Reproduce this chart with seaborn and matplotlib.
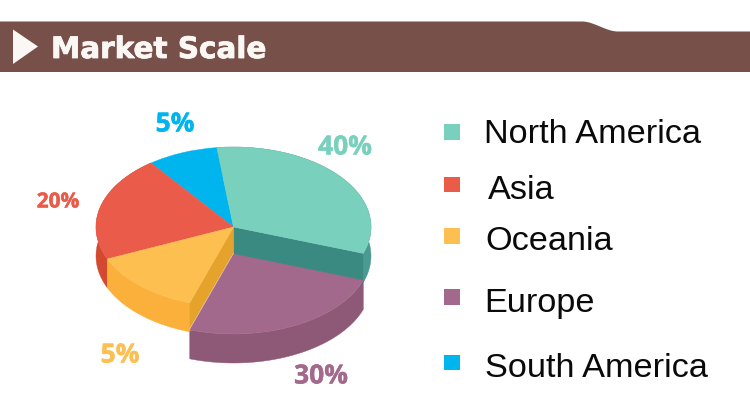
import numpy as np
import pandas as pd
import matplotlib
matplotlib.use("Agg")
import matplotlib.pyplot as plt
import matplotlib.patheffects as pe
from matplotlib.patches import Polygon
import seaborn as sns

# slices as drawn, starting at the top and going counter-clockwise
regions = ["South America", "Asia", "Oceania", "Europe", "North America"]
labels = ["5%", "20%", "5%", "30%", "40%"]
drawn_share = [8.3, 21.3, 13.3, 24.8, 32.3]
colors = ["#00B4EE", "#EA5B4A", "#FDBF50", "#A3698C", "#78D0BD"]
wall_colors = ["#0090C0", "#D2492F", "#FBB03B", "#8E5877", "#4A9A92"]
legend_order = ["North America", "Asia", "Oceania", "Europe", "South America"]

W, H = 750, 414
cx, cy = 233.5, 228.0
rx, ry = 137.5, 80.0
start = 97
wall = 29 / ry
drop = 27 / ry
brown = "#77504A"

sns.set_theme(style="white")
plt.rcParams["font.family"] = ["Liberation Sans", "DejaVu Sans"]

fig = plt.figure(figsize=(W / 100, H / 100), dpi=100)
fig.patch.set_facecolor("white")

# pie axes: one data unit is the ellipse radius
ax = fig.add_axes([0, 0, 1, 1])
wedges, _ = ax.pie(drawn_share, colors=colors, startangle=start, counterclock=True,
                   wedgeprops=dict(linewidth=0.3, zorder=5))
for w, c in zip(wedges, colors):
    w.set_edgecolor(c)
ax.set_aspect("auto")
ax.set_xlim(-cx / rx, (W - cx) / rx)
ax.set_ylim((cy - H) / ry, cy / ry)
ax.axis("off")

edges = start + np.cumsum([0] + drawn_share) * 3.6
eu = regions.index("Europe")
wedges[eu].set_center((0, -drop))


def arc(a1, a2, y0):
    t = np.radians(np.linspace(a1, a2, 80))
    return np.column_stack([np.cos(t), np.sin(t) + y0])


def outer_wall(i, y0, col):
    top = arc(edges[i], edges[i + 1], y0)
    bottom = arc(edges[i], edges[i + 1], y0 - wall)
    ax.add_patch(Polygon(np.vstack([top, bottom[::-1]]), fc=col, ec=col, lw=0.3, zorder=2))


def inner_face(angle, col, zorder=3):
    t = np.radians(angle)
    x, y = np.cos(t), np.sin(t)
    pts = [(0, 0), (x, y), (x, y - wall), (0, -wall)]
    ax.add_patch(Polygon(pts, fc=col, ec=col, lw=0.3, zorder=zorder))


for i in [1, 2, 4]:
    outer_wall(i, 0, wall_colors[i])
outer_wall(eu, -drop, wall_colors[eu])
inner_face(edges[eu + 1], "#3B8A82")
inner_face(edges[eu], "#E5A32B")

# white seam between the yellow inner face and the lowered slice
t = np.radians(edges[eu])
ax.plot([0, np.cos(t)], [-drop, np.sin(t) - drop], color="white", lw=0.8, zorder=4)

# overlay in pixel coordinates for header, legend and labels
ov = fig.add_axes([0, 0, 1, 1], facecolor="none")

sx = np.linspace(582, 618, 30)
u = (sx - 582) / 36
sy = 22.5 + 10 * (3 * u ** 2 - 2 * u ** 3)
band = np.vstack([[(0, 73), (0, 22.5)], np.column_stack([sx, sy]), [(750, 32.5), (750, 73)]])
ov.add_patch(Polygon(band, fc=brown, ec="none"))
ov.add_patch(Polygon([(13, 30.5), (13, 65), (38, 47.5)], fc="#FBF7F5", ec="none"))
ov.text(51, 51, "Market Scale", color="#FBF7F5", fontsize=21.2, fontweight="bold",
        family="DejaVu Sans", va="center", ha="left",
        path_effects=[pe.withStroke(linewidth=0.6, foreground="#FBF7F5")])

legend_y = [133, 185.5, 237, 298, 363.5]
legend_text_x = [484, 488, 485, 484, 485]
legend_text_y = [135, 191, 242, 304, 369]
swatches = pd.DataFrame({"x": [452] * 5, "y": legend_y, "region": legend_order})
sns.scatterplot(data=swatches, x="x", y="y", hue="region", palette=dict(zip(regions, colors)),
                marker="s", s=125, linewidth=0, legend=False, ax=ov)
for name, x, y in zip(legend_order, legend_text_x, legend_text_y):
    ov.text(x, y, name, color="#0A0A0A", fontsize=24.7, va="center", ha="left")

label_x = [175, 58, 120, 321, 345]
label_y = [125, 203, 356, 377, 148]
label_size = [19, 15, 19, 19, 19]
for s, x, y, c, fs in zip(labels, label_x, label_y, colors, label_size):
    ov.text(x, y, s, color=c, fontsize=fs, fontweight="bold", family="Open Sans",
            va="center", ha="center",
            path_effects=[pe.withStroke(linewidth=0.3, foreground=c)])

ov.set_xlim(0, W)
ov.set_ylim(H, 0)
ov.axis("off")

fig.savefig("out.png", dpi=100)
